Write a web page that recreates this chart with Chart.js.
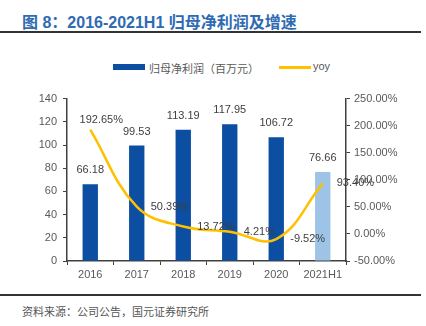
<!DOCTYPE html>
<html>
<head>
<meta charset="utf-8">
<script src="https://cdn.jsdelivr.net/npm/chart.js@4"></script>
<style>
  body { margin: 0; background: #fff; }
  #wrap { position: relative; width: 426px; height: 326px; overflow: hidden; font-family: 'Liberation Sans', Arial, 'Noto Sans CJK SC', sans-serif; }
  #title { position: absolute; left: 22px; top: 9px; font-size: 16px; font-weight: bold; color: #2E6BB2; font-family: 'Liberation Sans', Arial, 'Noto Sans CJK SC', sans-serif; white-space: nowrap; }
  .rule { position: absolute; left: 0; width: 421px; height: 2px; background: #333; }
  #legend { position: absolute; top: 60px; left: 0; width: 426px; height: 14px; font-size: 11px; color: #595959; }
  #legend span { position: absolute; white-space: nowrap; }
  #source { position: absolute; left: 22px; top: 303px; font-size: 11px; color: #555; font-family: 'Noto Sans CJK SC', sans-serif; white-space: nowrap; }
  #chartBox { position: absolute; left: 0; top: 86px; width: 426px; height: 200px; }
</style>
</head>
<body>
<div id="wrap">
  <div id="title">图 8：2016-2021H1 归母净利润及增速</div>
  <div class="rule" style="top:31px"></div>
  <div id="legend">
    <span style="left:113px;top:4px;width:32px;height:6px;background:#0B4EA2"></span>
    <span style="left:149px;top:0px;font-family:'Noto Sans CJK SC',sans-serif">归母净利润（百万元）</span>
    <span style="left:279px;top:6px;width:32px;height:3px;background:#FFC000"></span>
    <span style="left:313px;top:0px">yoy</span>
  </div>
  <div id="chartBox"><canvas id="netChart" width="426" height="200"></canvas></div>
  <div class="rule" style="top:294px"></div>
  <div id="source">资料来源：公司公告，国元证券研究所</div>
</div>
<script>
// data
const years = ["2016", "2017", "2018", "2019", "2020", "2021H1"];
const netProfit = [66.18, 99.53, 113.19, 117.95, 106.72, 76.66];
const yoy = [192.65, 50.39, 13.72, 4.21, -9.52, 93.40];
const barColors = ["#0B4EA2", "#0B4EA2", "#0B4EA2", "#0B4EA2", "#0B4EA2", "#9DC3E6"];

const labelFont = "11px 'Liberation Sans', Arial, sans-serif";

// draws value labels next to bars and line points
const valueLabels = {
  id: 'valueLabels',
  afterDatasetsDraw(chart) {
    const ctx = chart.ctx;
    ctx.save();
    ctx.font = labelFont;
    ctx.fillStyle = '#404040';

    let barMeta = chart.getDatasetMeta(0);
    barMeta.data.forEach((bar, i) => {
      ctx.textAlign = 'center';
      ctx.textBaseline = 'middle';
      ctx.fillText(netProfit[i].toFixed(2), bar.x, bar.y - 14);
    });

    let lineMeta = chart.getDatasetMeta(1);
    lineMeta.data.forEach((pt, i) => {
      let txt = yoy[i].toFixed(2) + '%';
      ctx.textBaseline = 'middle';
      if (i === 0) {
        ctx.textAlign = 'center';
        ctx.fillText(txt, pt.x + 11, pt.y - 10);
      } else {
        ctx.textAlign = 'left';
        ctx.fillText(txt, pt.x + 14, pt.y);
      }
    });
    ctx.restore();
  }
};

const tickFont = { family: "'Liberation Sans', Arial, sans-serif", size: 11 };

let chart = new Chart('netChart', {
  type: 'bar',
  data: {
    labels: years,
    datasets: [{
      type: 'bar',
      data: netProfit,
      backgroundColor: barColors,
      barPercentage: 0.66,
      categoryPercentage: 0.5,
      yAxisID: 'y',
      order: 2
    }, {
      type: 'line',
      data: yoy,
      borderColor: '#FFC000',
      borderWidth: 2.5,
      tension: 0.4,
      pointRadius: 0,
      fill: false,
      yAxisID: 'y1',
      order: 1
    }]
  },
  options: {
    responsive: false,
    animation: false,
    layout: {
      padding: { top: 10, left: 0, right: 0, bottom: 0 }
    },
    plugins: {
      legend: { display: false },
      tooltip: { enabled: false }
    },
    scales: {
      x: {
        grid: {
          offset: true,
          drawOnChartArea: false,
          drawTicks: true,
          tickLength: 4,
          color: '#404040'
        },
        border: { color: '#404040', width: 1.5 },
        ticks: { color: '#595959', font: tickFont, padding: 3 },
        afterFit: (scale) => { scale.height = 25; }
      },
      y: {
        position: 'left',
        min: 0,
        max: 140,
        ticks: { stepSize: 20, color: '#595959', font: tickFont, padding: 6 },
        grid: { drawOnChartArea: false, drawTicks: true, tickLength: 4, color: '#404040' },
        border: { color: '#404040', width: 1.5 },
        afterFit: (scale) => { scale.width = 67; }
      },
      y1: {
        position: 'right',
        min: -50,
        max: 250,
        ticks: {
          stepSize: 50,
          color: '#595959',
          font: tickFont,
          padding: 4,
          callback: (v) => v.toFixed(2) + '%'
        },
        grid: { drawOnChartArea: false, drawTicks: true, tickLength: 4, color: '#404040' },
        border: { color: '#404040', width: 1.5 },
        afterFit: (scale) => { scale.width = 80; }
      }
    }
  },
  plugins: [valueLabels]
});
</script>
</body>
</html>
